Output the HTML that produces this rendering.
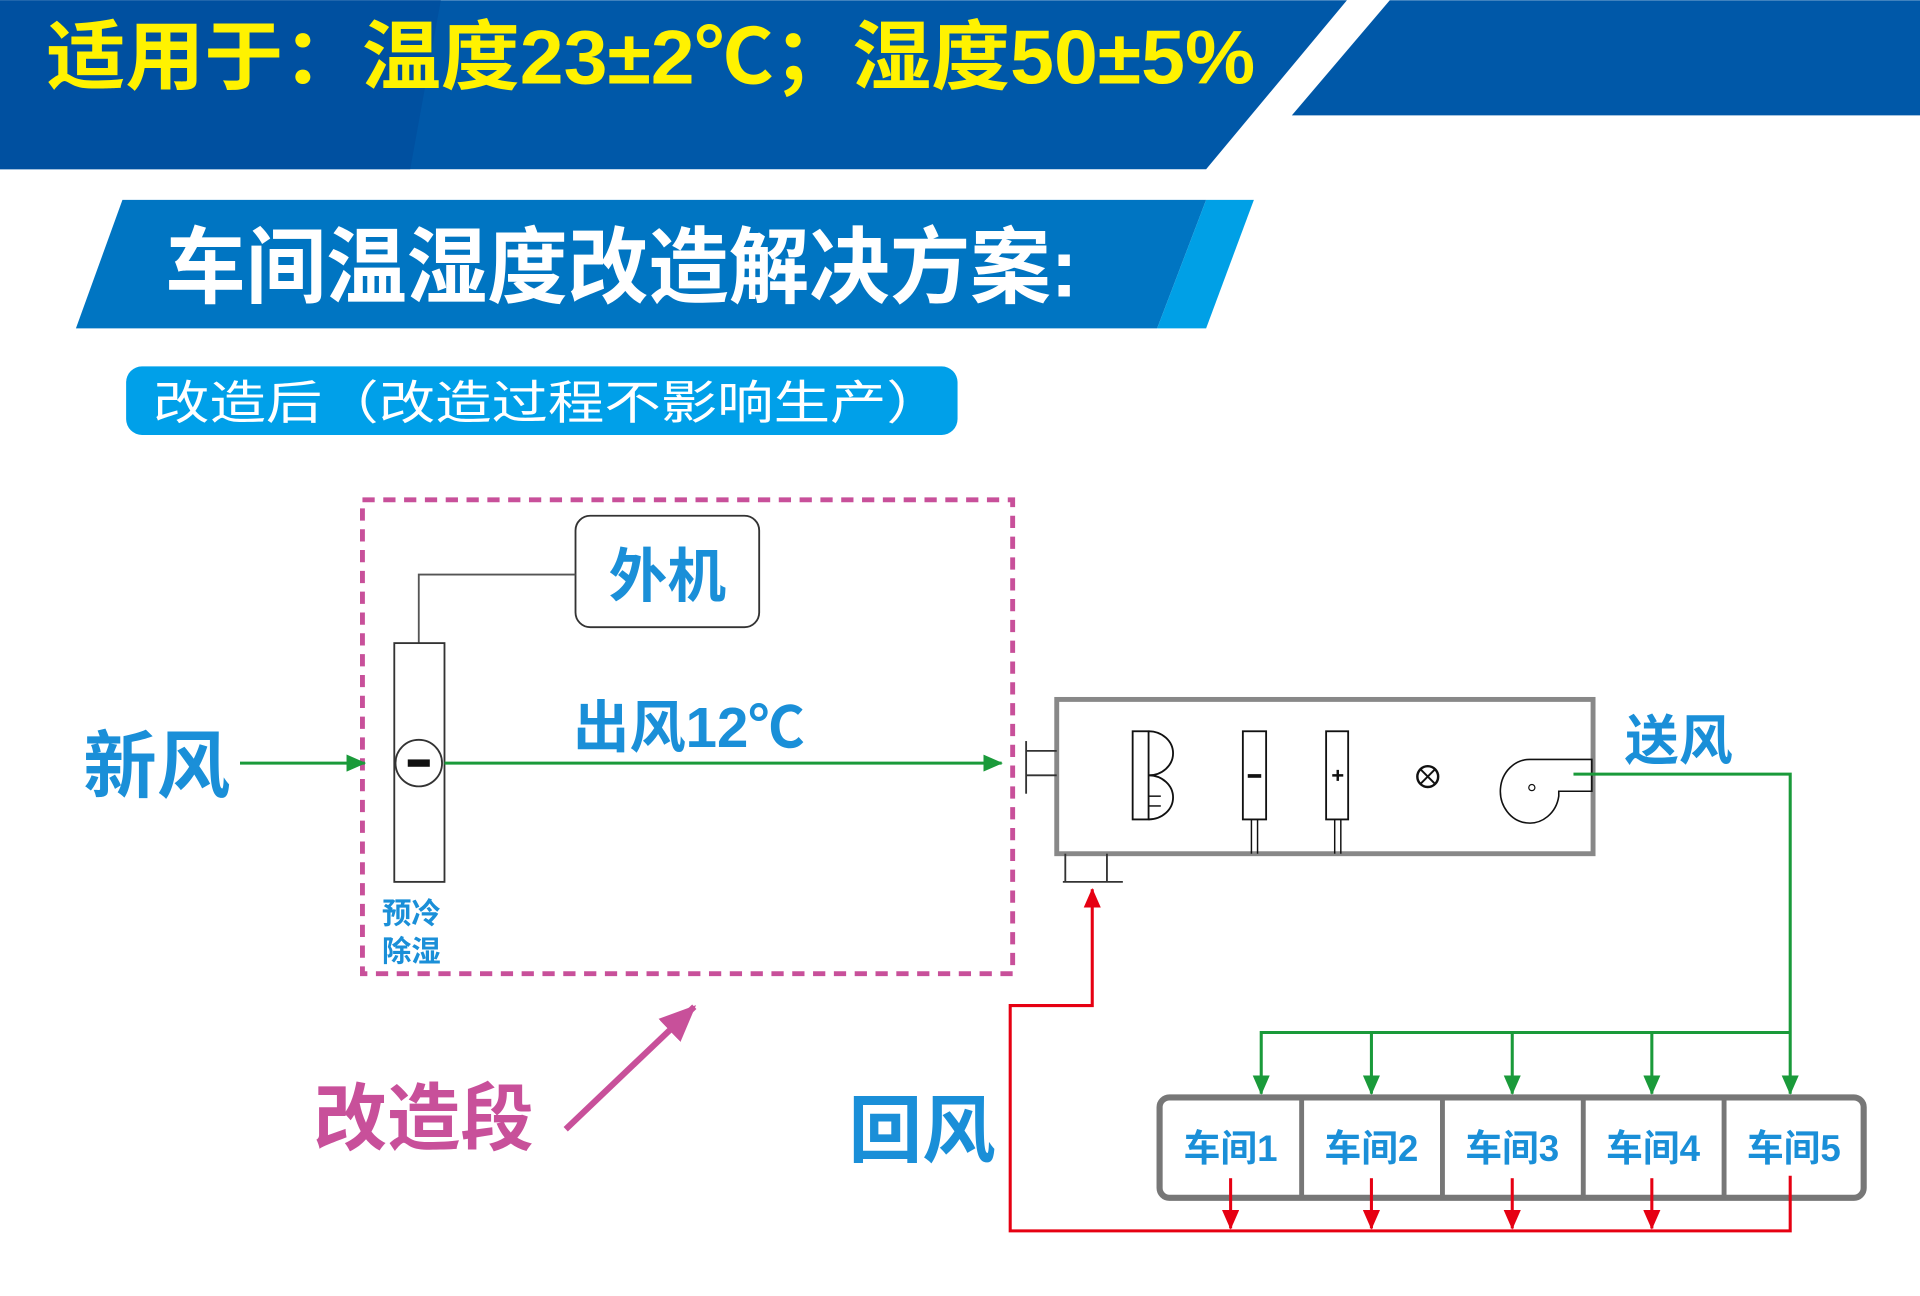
<!DOCTYPE html>
<html><head><meta charset="utf-8"><style>
html,body{margin:0;padding:0;background:#fff;}
svg{display:block}
text{font-family:"Liberation Sans","Noto Sans CJK SC",sans-serif;font-weight:bold;}
</style></head><body>
<svg width="1920" height="1296" viewBox="0 0 1568 1058" xmlns="http://www.w3.org/2000/svg">
<defs>
<marker id="g" markerWidth="8" markerHeight="8" refX="7" refY="4" orient="auto" markerUnits="userSpaceOnUse" viewBox="0 0 8 8"><path d="M0,0 L8,4 L0,8 Z" fill="#1a9a3a"/></marker>
<marker id="gb" markerWidth="16" markerHeight="14" refX="15" refY="7" orient="auto" markerUnits="userSpaceOnUse"><path d="M0,0 L16,7 L0,14 Z" fill="#1a9a3a"/></marker>
<marker id="rb" markerWidth="16" markerHeight="14" refX="15" refY="7" orient="auto" markerUnits="userSpaceOnUse"><path d="M0,0 L16,7 L0,14 Z" fill="#e60012"/></marker>
<marker id="pb" markerWidth="30" markerHeight="26" refX="28" refY="13" orient="auto" markerUnits="userSpaceOnUse"><path d="M0,0 L30,13 L0,26 Z" fill="#c8509a"/></marker>
</defs>
<!-- top banner -->
<polygon points="0,0 1100,0 985,138 0,138" fill="#0058a8"/>
<polygon points="0,0 360,0 335,138 0,138" fill="#0050a0"/>
<polygon points="1135,0 1568,0 1568,94 1055,94" fill="#0058a8"/>
<text x="38" y="68" font-size="62" fill="#fff200" textLength="987" lengthAdjust="spacingAndGlyphs">适用于：温度23±2℃；湿度50±5%</text>
<!-- second banner -->
<polygon points="100,163 985,163 945,268 62,268" fill="#0075c2"/>
<polygon points="985,163 1024,163 985,268 945,268" fill="#00a0e6"/>
<text x="135" y="242" font-size="68" fill="#fff" textLength="745" lengthAdjust="spacingAndGlyphs">车间温湿度改造解决方案:</text>
<!-- pill -->
<rect x="103" y="299" width="679" height="56" rx="13" fill="#00a0e9"/>
<text x="125" y="342" font-size="38" fill="#fff" font-weight="normal" style="font-weight:normal" textLength="645" lengthAdjust="spacingAndGlyphs">改造后（改造过程不影响生产）</text>
<!-- dashed area -->
<rect x="296" y="408" width="531" height="387" fill="none" stroke="#c8509a" stroke-width="4" stroke-dasharray="10,7"/>
<rect x="470" y="421" width="150" height="91" rx="12" fill="#fff" stroke="#333" stroke-width="1.5"/>
<text x="545" y="487" font-size="48" fill="#1a8fd8" text-anchor="middle">外机</text>
<polyline points="470,469 342,469 342,525" fill="none" stroke="#555" stroke-width="1.5"/>
<rect x="322" y="525" width="41" height="195" fill="#fff" stroke="#333" stroke-width="1.5"/>
<line x1="196" y1="623" x2="298" y2="623" stroke="#1a9a3a" stroke-width="2.5" marker-end="url(#gb)"/>
<line x1="363" y1="623" x2="818" y2="623" stroke="#1a9a3a" stroke-width="2.5" marker-end="url(#gb)"/>
<circle cx="342" cy="623" r="19" fill="#fff" stroke="#333" stroke-width="1.5"/>
<rect x="333" y="620" width="18" height="6" fill="#111"/>
<text x="312" y="754" font-size="24" fill="#1a8fd8">预冷</text>
<text x="312" y="785" font-size="24" fill="#1a8fd8">除湿</text>
<text x="68" y="646" font-size="60" fill="#1a8fd8">新风</text>
<text x="468" y="610" font-size="46" fill="#1a8fd8">出风12℃</text>
<!-- AHU -->
<rect x="863" y="571" width="438" height="126" fill="#fff" stroke="#888" stroke-width="4"/>
<line x1="838" y1="605" x2="838" y2="648" stroke="#333" stroke-width="1.5"/>
<line x1="838" y1="613" x2="863" y2="613" stroke="#333" stroke-width="1.5"/>
<line x1="838" y1="633" x2="863" y2="633" stroke="#333" stroke-width="1.5"/>
<line x1="870" y1="697" x2="870" y2="720" stroke="#333" stroke-width="1.5"/>
<line x1="904" y1="697" x2="904" y2="720" stroke="#333" stroke-width="1.5"/>
<line x1="868" y1="720" x2="917" y2="720" stroke="#333" stroke-width="1.5"/>
<rect x="925" y="597" width="13" height="72" fill="none" stroke="#111" stroke-width="1.5"/>
<path d="M938,597 A20,18 0 0 1 938,633 A20,18 0 0 1 938,669" fill="none" stroke="#111" stroke-width="1.5"/>
<line x1="938" y1="650" x2="948" y2="650" stroke="#111" stroke-width="1.2"/>
<line x1="938" y1="658" x2="948" y2="658" stroke="#111" stroke-width="1.2"/>
<rect x="1015" y="597" width="19" height="72" fill="none" stroke="#111" stroke-width="1.5"/>
<rect x="1019" y="632" width="11" height="3" fill="#111"/>
<line x1="1022" y1="669" x2="1022" y2="697" stroke="#111" stroke-width="1.2"/>
<line x1="1027" y1="669" x2="1027" y2="697" stroke="#111" stroke-width="1.2"/>
<rect x="1083" y="597" width="18" height="72" fill="none" stroke="#111" stroke-width="1.5"/>
<path d="M1088,633 h9 M1092.5,628.5 v9" stroke="#111" stroke-width="2"/>
<line x1="1090" y1="669" x2="1090" y2="697" stroke="#111" stroke-width="1.2"/>
<line x1="1095" y1="669" x2="1095" y2="697" stroke="#111" stroke-width="1.2"/>
<circle cx="1166" cy="634" r="8.5" fill="none" stroke="#111" stroke-width="2"/>
<path d="M1160,628 L1172,640 M1172,628 L1160,640" stroke="#111" stroke-width="1.6"/>
<path d="M1300,620 L1250,620 A24,26 0 1 0 1273,650 L1273,646 L1300,646 Z" fill="none" stroke="#111" stroke-width="1.3"/>
<circle cx="1251" cy="643" r="2.5" fill="none" stroke="#111" stroke-width="1"/>
<!-- supply -->
<polyline points="1285,632 1462,632 1462,893" fill="none" stroke="#1a9a3a" stroke-width="2.5" marker-end="url(#gb)"/>
<polyline points="1462,843 1030,843 1030,893" fill="none" stroke="#1a9a3a" stroke-width="2.5" marker-end="url(#gb)"/>
<line x1="1120" y1="843" x2="1120" y2="893" stroke="#1a9a3a" stroke-width="2.5" marker-end="url(#gb)"/>
<line x1="1235" y1="843" x2="1235" y2="893" stroke="#1a9a3a" stroke-width="2.5" marker-end="url(#gb)"/>
<line x1="1349" y1="843" x2="1349" y2="893" stroke="#1a9a3a" stroke-width="2.5" marker-end="url(#gb)"/>
<text x="1327" y="620" font-size="44" fill="#1a8fd8">送风</text>
<!-- rooms -->
<rect x="947" y="896" width="575" height="82" rx="8" fill="#fff" stroke="#777" stroke-width="5"/>
<g stroke="#777" stroke-width="4"><line x1="1063" y1="896" x2="1063" y2="978"/><line x1="1178" y1="896" x2="1178" y2="978"/><line x1="1293" y1="896" x2="1293" y2="978"/><line x1="1408" y1="896" x2="1408" y2="978"/></g>
<g font-size="30" fill="#1a8fd8" text-anchor="middle">
<text x="1005" y="948">车间1</text><text x="1120" y="948">车间2</text><text x="1235" y="948">车间3</text><text x="1350" y="948">车间4</text><text x="1465" y="948">车间5</text></g>
<!-- return -->
<polyline points="1462,960 1462,1005 825,1005 825,821 892,821 892,726" fill="none" stroke="#e60012" stroke-width="2.5" marker-end="url(#rb)"/>
<g stroke="#e60012" stroke-width="2.5">
<line x1="1005" y1="962" x2="1005" y2="1003" marker-end="url(#rb)"/>
<line x1="1120" y1="962" x2="1120" y2="1003" marker-end="url(#rb)"/>
<line x1="1235" y1="962" x2="1235" y2="1003" marker-end="url(#rb)"/>
<line x1="1349" y1="962" x2="1349" y2="1003" marker-end="url(#rb)"/>
</g>
<text x="693" y="944" font-size="60" fill="#1a8fd8">回风</text>
<text x="256" y="934" font-size="60" fill="#c8509a">改造段</text>
<line x1="462" y1="922" x2="567" y2="822" stroke="#c8509a" stroke-width="5" marker-end="url(#pb)"/>
</svg>
</body></html>
